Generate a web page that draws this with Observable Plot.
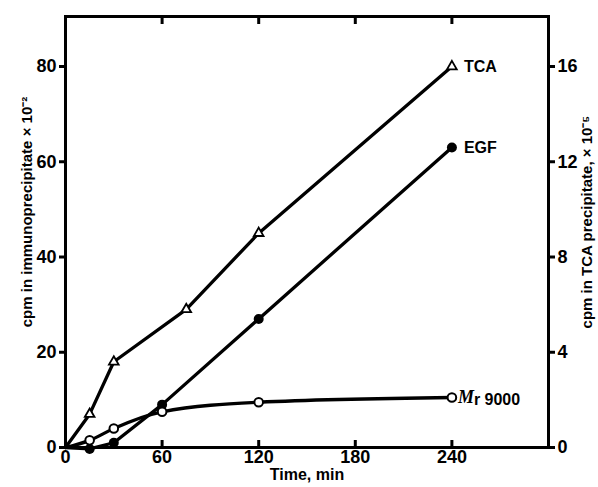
<!DOCTYPE html>
<html><head><meta charset="utf-8">
<script src="https://cdn.jsdelivr.net/npm/d3@7"></script>
<script src="https://cdn.jsdelivr.net/npm/@observablehq/plot@0.6"></script>
<style>body{margin:0;background:#fff} svg text{font-weight:bold}</style>
</head><body><div id="c"></div>
<script>
const tcaT = [0, 15, 30, 75, 120, 240];
const tcaV = [0, 7, 18, 29, 45, 80];
const egfT = [0, 15, 30, 60, 120, 240];
const egfV = [0, -0.3, 1, 9, 27, 63];
const mrT = [0, 15, 30, 60, 120, 240];
const mrV = [0, 1.5, 4, 7.5, 9.5, 10.5];
const xTicks = [0, 60, 120, 180, 240];
const yTicks = [0, 20, 40, 60, 80];
const rightTickLabels = [0, 4, 8, 12, 16];

const tca = tcaT.map((t,i)=>({t, v:tcaV[i]}));
const egf = egfT.map((t,i)=>({t, v:egfV[i]}));
const mr = mrT.map((t,i)=>({t, v:mrV[i]}));
const F = "Liberation Sans, Arial, sans-serif";

const chart = Plot.plot({
  width: 598, height: 487,
  marginLeft: 65, marginTop: 16, marginRight: 50, marginBottom: 40,
  style: {fontFamily: F, fontWeight: "bold", fontSize: "17px", color: "#000"},
  x: {domain: [0, 300]},
  y: {domain: [0, 90.5]},
  marks: [
    Plot.frame({strokeWidth: 3}),
    Plot.axisX({ticks: xTicks, tickSize: -7, strokeWidth: 3, tickPadding: 10, fontSize: 18, label: null}),
    Plot.text(["Time, min"], {frameAnchor: "bottom", dy: 32, fontSize: 16, fontWeight: "bold"}),
    Plot.axisX({anchor: "top", ticks: xTicks.slice(1), tickSize: -7, strokeWidth: 3, tickFormat: () => "", label: null}),
    Plot.axisY({ticks: yTicks, tickSize: 6, strokeWidth: 3, tickPadding: 3, fontSize: 18, label: null}),
    Plot.text(["cpm in immunoprecipitate × 10⁻²"], {frameAnchor: "left", textAnchor: "middle", dx: -38, dy: -20, rotate: -90, fontSize: 15, fontWeight: "bold"}),
    Plot.axisY({anchor: "right", ticks: yTicks, tickSize: 6, strokeWidth: 3, tickPadding: 3, fontSize: 18, tickFormat: (d,i) => rightTickLabels[i], label: null}),
    Plot.text(["cpm in TCA precipitate, × 10⁻⁵"], {frameAnchor: "right", textAnchor: "middle", dx: 39, dy: -10, rotate: -90, fontSize: 15, fontWeight: "bold"}),
    Plot.line(tca, {x: "t", y: "v", strokeWidth: 3.3}),
    Plot.line(egf, {x: "t", y: "v", strokeWidth: 3.3}),
    Plot.line(mr, {x: "t", y: "v", strokeWidth: 3.3, curve: "monotone-x"}),
    Plot.dot(tca.slice(1), {x: "t", y: "v", symbol: "triangle", r: 3.6, fill: "white", stroke: "black", strokeWidth: 1.8}),
    Plot.dot(egf.slice(1), {x: "t", y: "v", r: 5, fill: "black"}),
    Plot.dot(mr.slice(1), {x: "t", y: "v", r: 4.3, fill: "white", stroke: "black", strokeWidth: 2}),
    Plot.text([tca[5]], {x: "t", y: "v", text: () => "TCA", dx: 12, textAnchor: "start", fontSize: 16, fontWeight: "bold"}),
    Plot.text([egf[5]], {x: "t", y: "v", text: () => "EGF", dx: 12, textAnchor: "start", fontSize: 16, fontWeight: "bold"}),
    Plot.text([mr[5]], {x: "t", y: "v", text: () => "M", dx: 6, textAnchor: "start", fontSize: 18, fontStyle: "italic", fontWeight: "normal", fontFamily: "Liberation Serif, serif"}),
    Plot.text([mr[5]], {x: "t", y: "v", text: () => "r 9000", dx: 22, dy: 2, textAnchor: "start", fontSize: 16, fontWeight: "bold"})
  ]
});
document.getElementById("c").appendChild(chart);
</script></body></html>
